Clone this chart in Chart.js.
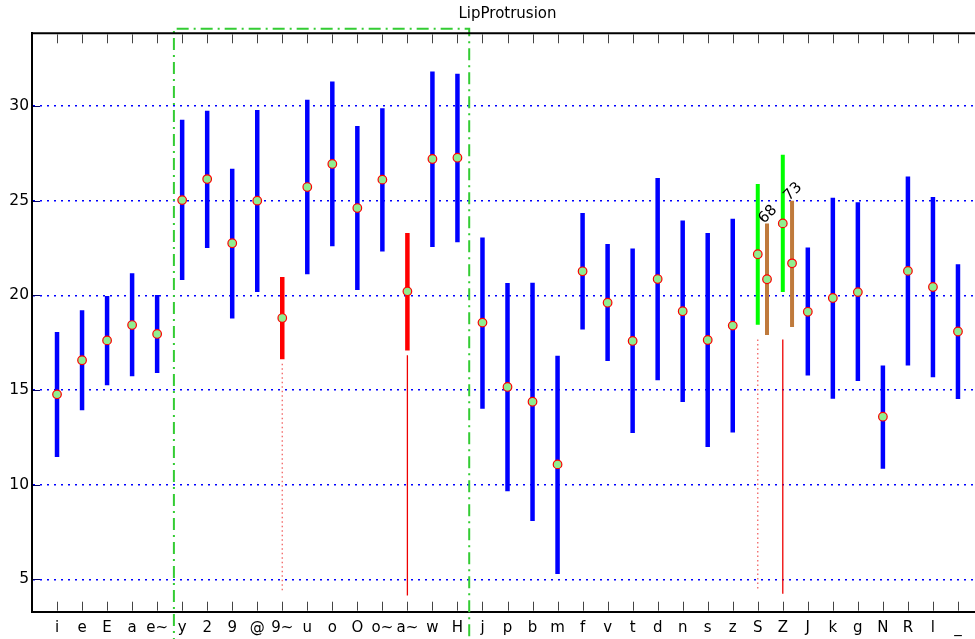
<!DOCTYPE html>
<html><head><meta charset="utf-8">
<script src="https://cdn.jsdelivr.net/npm/chart.js@4/dist/chart.umd.min.js"></script>
<style>html,body{margin:0;padding:0;overflow:hidden;background:#fff;} #wrap{width:990px;height:639px;}</style>
</head><body><div id="wrap"><canvas id="c" width="990" height="639"></canvas></div>
<script>
// ---- data ----
const categories = ['i','e','E','a','e~','y','2','9','@','9~','u','o','O','o~','a~','w','H',
  'j','p','b','m','f','v','t','d','n','s','z','S','Z','J','k','g','N','R','l','_'];
const lows  = [11.46,13.93,15.25,15.72,15.90,20.81,22.50,18.77,20.18,16.62,21.11,22.59,20.28,22.31,17.09,22.55,22.80,
  14.01,9.65,8.08,5.28,18.20,16.53,12.73,15.51,14.36,11.99,12.75,18.45,20.17,15.76,14.54,15.48,10.84,16.29,15.67,14.52];
const highs = [18.06,19.21,19.96,21.16,20.02,29.28,29.75,26.69,29.79,20.97,30.33,31.29,28.94,29.88,23.29,31.82,31.71,
  23.06,20.65,20.67,16.81,24.35,22.71,22.47,26.20,23.95,23.29,24.05,25.88,27.42,22.52,25.15,24.91,16.29,26.27,25.19,21.64];
const means = [14.77,16.57,17.62,18.43,17.96,25.03,26.14,22.75,25.00,18.80,25.72,26.94,24.61,26.11,20.21,27.20,27.27,
  18.56,15.16,14.38,11.07,21.27,19.61,17.59,20.86,19.16,17.64,18.40,22.17,23.80,19.13,19.86,20.17,13.59,21.29,20.44,18.09];
const redCats = ['9~','a~'];
const greenCats = ['S','Z'];
const brownCats = ['S','Z'];
const brownLows = [17.90,18.33];
const brownHighs = [23.79,25.00];
const brownMeans = [20.85,21.69];
const brownCounts = [68,73];
const tailCats = ['9~','a~','S','Z'];
const tailTops = [16.39,16.83,17.68,17.67];
const tailBottoms = [4.42,4.15,4.51,4.24];
const dottedTailCats = ['9~','S'];
const yRange = [3.29, 33.84];
const yTickStep = 5;
const boxRange = [4.67, 16.47];
const boxTop = 34.08;

// ---- helpers ----
const brownOffset = 0.37;
function segments(cats, lo, hi, dx) {
  const out = [];
  cats.forEach((c, k) => {
    const i = categories.indexOf(c);
    out.push({x: i + dx, y: lo[k]}, {x: i + dx, y: hi[k]}, {x: i + dx, y: null});
  });
  return out;
}
const special = new Set([...redCats, ...greenCats]);
const blueCats = categories.filter(c => !special.has(c));
const pick = (arr, cats) => cats.map(c => arr[categories.indexOf(c)]);

const meanPts = categories.map((c, i) => ({x: i, y: means[i]}))
  .concat(brownCats.map((c, k) => ({x: categories.indexOf(c) + brownOffset, y: brownMeans[k]})));

const dottedIdx = tailCats.map((c, k) => k).filter(k => dottedTailCats.includes(tailCats[k]));
const solidIdx = tailCats.map((c, k) => k).filter(k => !dottedTailCats.includes(tailCats[k]));
const sel = (arr, idx) => idx.map(k => arr[k]);

function barDs(data, color, order, w) {
  return {type: 'line', data, borderColor: color, borderWidth: w, borderCapStyle: 'butt',
    pointRadius: 0, pointHoverRadius: 0, fill: false, tension: 0, spanGaps: false, order};
}

const axisDecor = {
  id: 'axisDecor',
  afterDraw(chart) {
    const {ctx, chartArea: a, scales: {x, y}} = chart;
    ctx.save();
    ctx.strokeStyle = '#000'; ctx.lineWidth = 2;
    ctx.beginPath(); ctx.moveTo(a.left - 1, a.top); ctx.lineTo(a.right, a.top); ctx.stroke();
    ctx.lineWidth = 1; ctx.strokeStyle = '#444';
    categories.forEach((c, i) => {
      const px = Math.round(x.getPixelForValue(i)) + 0.5;
      ctx.beginPath();
      ctx.moveTo(px, a.bottom - 1); ctx.lineTo(px, a.bottom - 10);
      ctx.moveTo(px, a.top + 1); ctx.lineTo(px, a.top + 10);
      ctx.stroke();
    });
    ctx.strokeStyle = '#000066';
    y.ticks.forEach(t => {
      const py = Math.round(y.getPixelForValue(t.value)) + 0.5;
      ctx.beginPath(); ctx.moveTo(a.left + 1, py); ctx.lineTo(a.left + 8, py); ctx.stroke();
    });
    ctx.restore();
  }
};
const countLabels = {
  id: 'countLabels',
  afterDatasetsDraw(chart) {
    const {ctx, scales: {x, y}} = chart;
    brownCats.forEach((c, k) => {
      const px = x.getPixelForValue(categories.indexOf(c) + brownOffset) + 1;
      const py = y.getPixelForValue(brownHighs[k]) - 9;
      ctx.save();
      ctx.translate(px, py); ctx.rotate(-Math.PI / 4);
      ctx.font = '15px "DejaVu Sans"'; ctx.fillStyle = '#000';
      ctx.textAlign = 'center'; ctx.textBaseline = 'middle';
      ctx.fillText(String(brownCounts[k]), 0, 0);
      ctx.restore();
    });
  }
};

Chart.defaults.font.family = '"DejaVu Sans", sans-serif';
Chart.defaults.color = '#000';

new Chart(document.getElementById('c'), {
  type: 'line',
  data: {datasets: [
    {type: 'line', data: meanPts, showLine: false, pointRadius: 4.3, pointHoverRadius: 4.3,
      pointBackgroundColor: '#90ee90', pointBorderColor: '#ff0000', pointBorderWidth: 1.2, order: 0},
    barDs(segments(blueCats, pick(lows, blueCats), pick(highs, blueCats), 0), '#0000ff', 1, 4.5),
    barDs(segments(redCats, pick(lows, redCats), pick(highs, redCats), 0), '#ff0000', 1, 4.5),
    barDs(segments(greenCats, pick(lows, greenCats), pick(highs, greenCats), 0), '#00ff00', 1, 4),
    barDs(segments(brownCats, brownLows, brownHighs, brownOffset), '#bf7a3c', 1, 4),
    Object.assign(barDs(segments(sel(tailCats, dottedIdx), sel(tailBottoms, dottedIdx), sel(tailTops, dottedIdx), 0),
      'rgba(240,70,70,0.85)', 2, 1.3), {borderDash: [1.5, 3]}),
    barDs(segments(sel(tailCats, solidIdx), sel(tailBottoms, solidIdx), sel(tailTops, solidIdx), 0), '#ee0000', 2, 1.3),
    Object.assign(barDs([{x: boxRange[0], y: 0}, {x: boxRange[0], y: boxTop}, {x: boxRange[1], y: boxTop}, {x: boxRange[1], y: 0}],
      '#33cc33', 3, 2), {borderDash: [12, 5, 2, 5], clip: false, borderCapStyle: 'butt', borderJoinStyle: 'miter'})
  ]},
  options: {
    responsive: false, animation: false, devicePixelRatio: 1,
    layout: {padding: {left: 0, right: 5.4, top: 0, bottom: 0}},
    plugins: {
      legend: {display: false}, tooltip: {enabled: false},
      title: {display: true, text: 'LipProtrusion', fullSize: false, color: '#000',
        font: {size: 15, weight: 'normal', family: '"DejaVu Sans"'}, padding: {top: 5.5, bottom: 9.8}}
    },
    scales: {
      x: {type: 'linear', min: -1, max: 37,
        afterFit: s => { s.height = 27.3; },
        ticks: {stepSize: 1, autoSkip: false, maxRotation: 0, minRotation: 0, padding: 7, color: '#000',
          font: {size: 15}, includeBounds: false,
          callback: v => (Number.isInteger(v) && v >= 0 && v < categories.length) ? categories[v] : ''},
        grid: {drawOnChartArea: false, drawTicks: false},
        border: {display: true, color: '#000', width: 2}
      },
      y: {type: 'linear', min: yRange[0], max: yRange[1],
        afterFit: s => { s.width = 32; },
        ticks: {stepSize: yTickStep, includeBounds: false, padding: 3, color: '#000', font: {size: 15.5}},
        grid: {color: '#0000ff', lineWidth: 1.6, drawTicks: false},
        border: {display: true, color: '#000', width: 2, dash: [2, 5]}
      }
    }
  },
  plugins: [axisDecor, countLabels]
});
</script></body></html>
